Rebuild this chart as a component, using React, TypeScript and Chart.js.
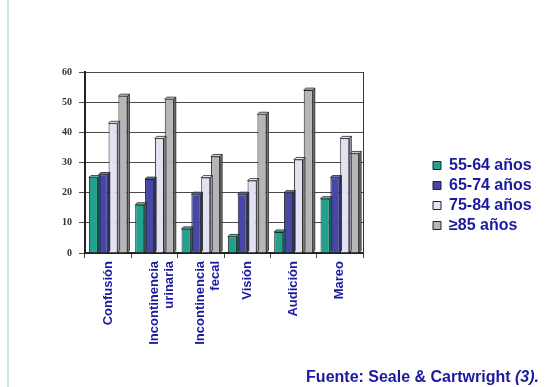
import React, { useEffect, useRef } from "react";
import { Chart, registerables } from "chart.js";
Chart.register(...registerables);

const categories: (string | string[])[] = [
  "Confusión",
  ["Incontinencia", "urinaria"],
  ["Incontinencia", "fecal"],
  "Visión",
  "Audición",
  "Mareo",
];
const seriesNames = ["55-64 años", "65-74 años", "75-84 años", "≥85 años"];
const age55_64 = [25, 16, 8, 5.5, 7, 18];
const age65_74 = [26, 24.5, 19.5, 19.5, 20, 25];
const age75_84 = [43, 38, 25, 24, 31, 38];
const age85plus = [52, 51, 32, 46, 54, 33];
const yTickValues = [0, 10, 20, 30, 40, 50, 60];
const sourceText = "Fuente: Seale & Cartwright ";
const sourceRef = "(3).";

const fills = ["#22a28e", "#4747a6", "#e2e2f2", "#b6b6b6"];
const sides = ["#16756a", "#2f2f78", "#a8a8c0", "#7a7a7a"];
const tops = ["#5cc4b2", "#7474c4", "#f4f4fc", "#d6d6d6"];
const textBlue = "#1a1a9e";
const LEGEND_W = 107;

const bar3d = {
  id: "bar3d",
  afterDatasetsDraw(chart: any) {
    const ctx = chart.ctx;
    const d = 2;
    const n = chart.data.labels.length;
    for (let c = 0; c < n; c++) {
      chart.data.datasets.forEach((_ds: any, i: number) => {
        const meta = chart.getDatasetMeta(i);
        const el = meta.data[c];
        if (!el) return;
        const { x, y, base, width } = el.getProps(["x", "y", "base", "width"], true);
        const l = x - width / 2;
        const r = x + width / 2;
        ctx.save();
        ctx.lineWidth = 0.8;
        ctx.strokeStyle = "#222";
        ctx.fillStyle = sides[i];
        ctx.beginPath();
        ctx.moveTo(r, y);
        ctx.lineTo(r + d, y - d);
        ctx.lineTo(r + d, base - d);
        ctx.lineTo(r, base);
        ctx.closePath();
        ctx.fill();
        ctx.stroke();
        ctx.fillStyle = tops[i];
        ctx.beginPath();
        ctx.moveTo(l, y);
        ctx.lineTo(l + d, y - d);
        ctx.lineTo(r + d, y - d);
        ctx.lineTo(r, y);
        ctx.closePath();
        ctx.fill();
        ctx.stroke();
        ctx.restore();
      });
    }
  },
};

export default function App() {
  const ref = useRef<HTMLCanvasElement | null>(null);
  useEffect(() => {
    if (!ref.current) return;
    const series = [age55_64, age65_74, age75_84, age85plus];
    const chart = new Chart(ref.current, {
      type: "bar",
      data: {
        labels: categories as any,
        datasets: series.map((d, i) => ({
          label: seriesNames[i],
          data: d,
          backgroundColor: fills[i],
          borderColor: "#222",
          borderWidth: 1,
          categoryPercentage: 0.85,
          barPercentage: 0.92,
        })),
      },
      options: {
        responsive: false,
        animation: false,
        devicePixelRatio: 1,
        layout: { padding: { left: 50, right: 16, top: 4, bottom: 0 } },
        plugins: {
          legend: {
            position: "right",
            labels: {
              boxWidth: 8,
              boxHeight: 8,
              padding: 4,
              color: textBlue,
              font: { family: "Arial, 'Liberation Sans', sans-serif", size: 16, weight: "bold" },
            },
          },
          tooltip: { enabled: false },
        },
        scales: {
          x: {
            position: "bottom",
            grid: { offset: true, drawOnChartArea: false, drawTicks: true, tickLength: 5, color: "#444" },
            border: { display: true, color: "#222", width: 2 },
            ticks: {
              autoSkip: false,
              maxRotation: 90,
              minRotation: 90,
              padding: 3,
              color: textBlue,
              font: { family: "Arial, 'Liberation Sans', sans-serif", size: 13, weight: "bold", lineHeight: 1.15 },
            },
            afterFit: (s: any) => { s.height = 134; },
          },
          xTop: {
            position: "top",
            grid: { display: false },
            border: { display: false },
            ticks: { display: false },
            afterFit: (s: any) => { s.height = 68; },
          },
          y: {
            min: 0,
            max: 60,
            afterBuildTicks: (s: any) => { s.ticks = yTickValues.map((v) => ({ value: v })); },
            grid: { color: "#4a4a4a", lineWidth: 1, tickLength: 6 },
            border: { display: true, color: "#222", width: 2 },
            ticks: {
              padding: 7,
              color: "#333",
              font: { family: "'Liberation Serif', 'Times New Roman', serif", size: 10, weight: "bold" },
            },
            afterFit: (s: any) => { s.width = 35; },
          },
          yRight: {
            position: "right",
            min: 0,
            max: 60,
            grid: { display: false },
            border: { display: true, color: "#333", width: 1 },
            ticks: { display: false },
            afterFit: (s: any) => { s.width = 66; },
          },
        },
      } as any,
      plugins: [bar3d],
    });
    const lg: any = (chart as any).legend;
    if (lg) {
      const origFit = lg.fit.bind(lg);
      lg.fit = function () {
        origFit();
        this.width = LEGEND_W;
      };
      chart.update();
    }
    return () => chart.destroy();
  }, []);

  return (
    <div style={{ position: "fixed", left: 0, top: 0, width: 552, height: 387, background: "#fff", overflow: "hidden" }}>
      <div style={{ position: "absolute", left: 7, top: 0, width: 2, height: 387, background: "#cfe6e6" }} />
      <canvas ref={ref} width={552} height={387} style={{ position: "absolute", left: 0, top: 0 }} />
      <div
        style={{
          position: "absolute",
          right: 13,
          top: 368,
          fontFamily: "Arial, 'Liberation Sans', sans-serif",
          fontWeight: "bold",
          fontSize: 16,
          lineHeight: "18px",
          color: textBlue,
          whiteSpace: "nowrap",
        }}
      >
        {sourceText}
        <i>{sourceRef}</i>
      </div>
    </div>
  );
}
